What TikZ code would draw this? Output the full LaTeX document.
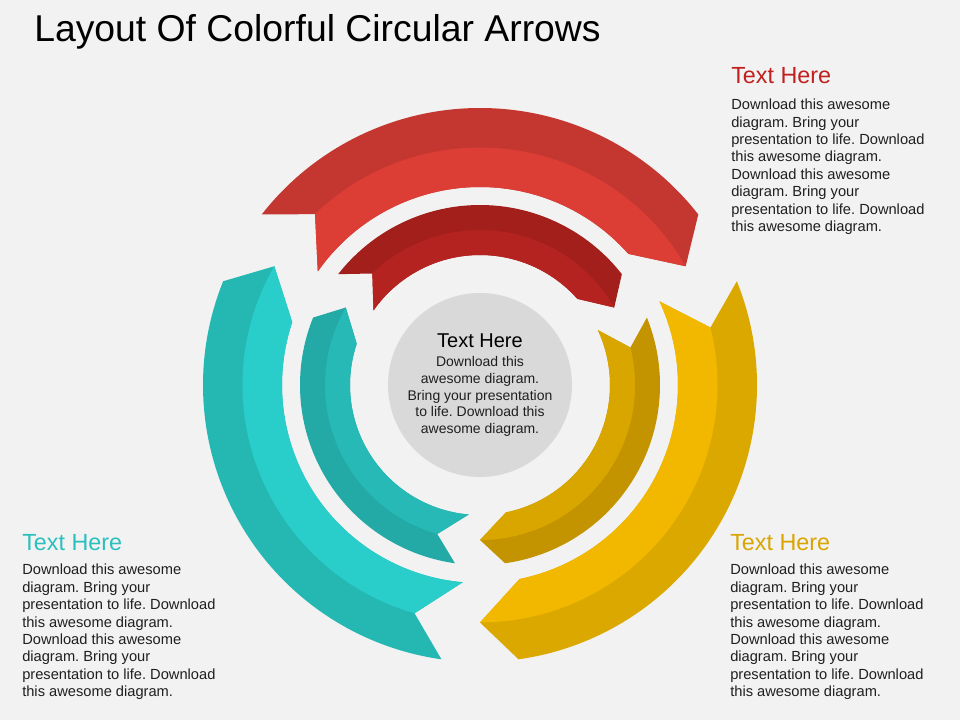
\documentclass[tikz,border=0pt]{standalone}
\usepackage{fontspec}
\setmainfont{Liberation Sans}
\frenchspacing
\definecolor{bg}{HTML}{F2F2F2}
\definecolor{hubgray}{HTML}{D9D9D9}
\definecolor{txt}{HTML}{1F1F1F}
\definecolor{redOutDk}{HTML}{C43730}
\definecolor{redOutLt}{HTML}{DC3E36}
\definecolor{redInDk}{HTML}{A21F1C}
\definecolor{redInLt}{HTML}{B4231F}
\definecolor{tealOutDk}{HTML}{25B8B3}
\definecolor{tealOutLt}{HTML}{29CECA}
\definecolor{tealInDk}{HTML}{23AAA6}
\definecolor{tealInLt}{HTML}{26B9B5}
\definecolor{yelOutDk}{HTML}{DBA800}
\definecolor{yelOutLt}{HTML}{F2B800}
\definecolor{yelInDk}{HTML}{C49400}
\definecolor{yelInLt}{HTML}{D9A600}
\definecolor{redHd}{HTML}{C0211F}
\definecolor{tealHd}{HTML}{2AC0BE}
\definecolor{yelHd}{HTML}{DAA500}
\begin{document}
\begin{tikzpicture}[x=0.75pt, y=0.75pt,
    title/.style={anchor=base west, inner sep=0, font=\fontsize{28}{33}\selectfont},
    heading/.style={anchor=base west, inner sep=0, font=\fontsize{17.5}{21}\selectfont},
    body/.style={anchor=north west, inner sep=0, align=left, text=txt,
      font=\fontsize{11}{13.05}\selectfont},
    hub/.style={circle, fill=hubgray, minimum size=138pt, inner sep=0}]
  \fill[bg] (0,0) rectangle (960,-720);
  \useasboundingbox (0,0) rectangle (960,-720);
  \node[title] (title) at (34,-41.7) {Layout Of Colorful Circular Arrows};
  % the two rings of arrows, turned by 120 degrees each
  \begin{scope}[shift={(480,-385)}]
    \foreach \rot/\ri/\ro/\dk/\lt in {0/198/277/redOutDk/redOutLt,
        0/130/180/redInDk/redInLt,
        -120/198/277/yelOutDk/yelOutLt,
        -120/130/180/yelInDk/yelInLt,
        120/198/277/tealOutDk/tealOutLt,
        120/130/180/tealInDk/tealInLt}{
      \pgfmathsetmacro\rmid{(\ri+\ro)/2}
      \fill[\dk] ({\rot+142}:\ro) arc[start angle=\rot+142, end angle=\rot+38, radius=\ro]
        -- ({\rot+30}:\rmid) -- ({\rot+41.5}:\ri)
        arc[start angle=\rot+41.5, end angle=\rot+145, radius=\ri]
        -- ({\rot+134}:\rmid) -- cycle;
      \fill[\lt] ({\rot+134}:\rmid) arc[start angle=\rot+134, end angle=\rot+30, radius=\rmid]
        -- ({\rot+41.5}:\ri) arc[start angle=\rot+41.5, end angle=\rot+145, radius=\ri]
        -- cycle;
    }
  \end{scope}
  % centre
  \node[hub] (hub) at (480,-385) {};
  \node[anchor=base, inner sep=0, font=\fontsize{15}{18}\selectfont] (hubhead) at (480,-347) {Text Here};
  \node[anchor=north, inner sep=0, align=center, text=txt, font=\fontsize{10.5}{12.5}\selectfont]
    (hubbody) at (480,-356.5) {Download this\\awesome diagram.\\Bring your presentation\\to life. Download this\\awesome diagram.};
  % side texts
  \node[heading, text=redHd] (redhead) at (731,-83.3) {Text Here};
  \node[body] (redbody) at (731,-98.8) {Download this awesome\\diagram. Bring your\\presentation to life. Download\\this awesome diagram.\\Download this awesome\\diagram. Bring your\\presentation to life. Download\\this awesome diagram.};
  \node[heading, text=tealHd] (tealhead) at (22,-550) {Text Here};
  \node[body] (tealbody) at (22,-564) {Download this awesome\\diagram. Bring your\\presentation to life. Download\\this awesome diagram.\\Download this awesome\\diagram. Bring your\\presentation to life. Download\\this awesome diagram.};
  \node[heading, text=yelHd] (yelhead) at (730,-550) {Text Here};
  \node[body] (yelbody) at (730,-564) {Download this awesome\\diagram. Bring your\\presentation to life. Download\\this awesome diagram.\\Download this awesome\\diagram. Bring your\\presentation to life. Download\\this awesome diagram.};
\end{tikzpicture}
\end{document}
